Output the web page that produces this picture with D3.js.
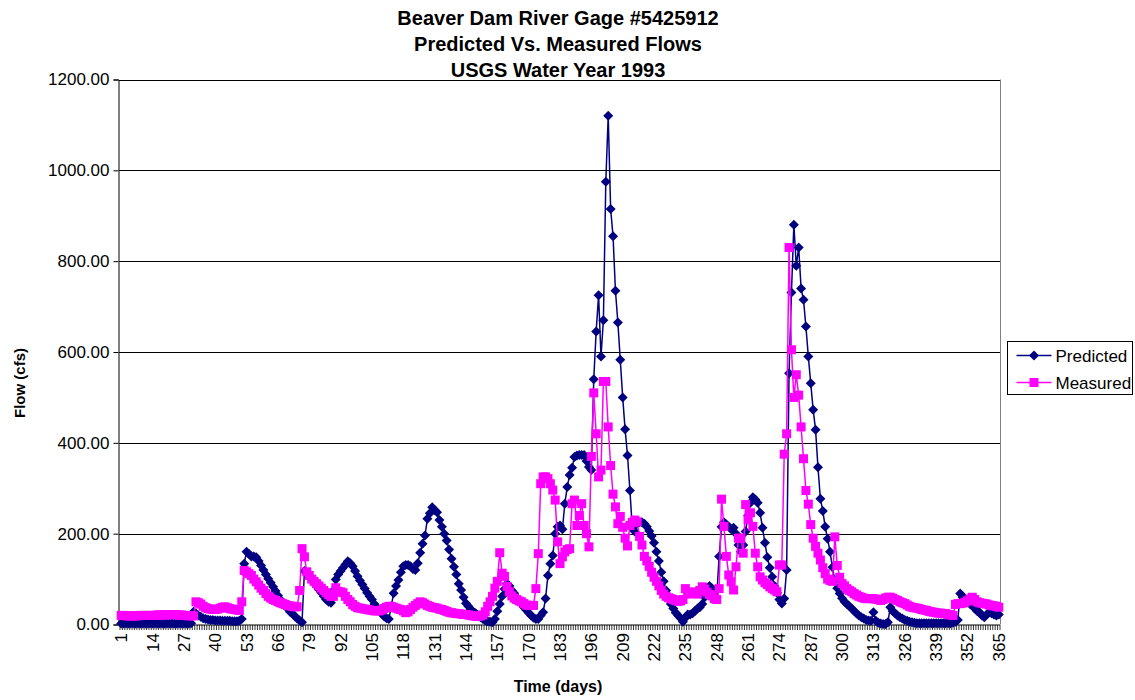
<!DOCTYPE html>
<html>
<head>
<meta charset="utf-8">
<script src="https://cdn.jsdelivr.net/npm/d3@7"></script>
<style>
  body { margin: 0; background: #fff; }
  svg { display: block; font-family: "Liberation Sans", Arial, sans-serif; }
</style>
</head>
<body>
<svg id="chart" width="1135" height="700"></svg>
<script>
// Day numbers (categories) and the labelled ones on the x axis
const days = d3.range(1, 366);
const dayLabels = [1, 14, 27, 40, 53, 66, 79, 92, 105, 118, 131, 144, 157, 170, 183,
    196, 209, 222, 235, 248, 261, 274, 287, 300, 313, 326, 339, 352, 365];
const flowTicks = [0, 200, 400, 600, 800, 1000, 1200];

// Predicted flow (cfs), day 1..365
const predicted = [
    2, 2, 2, 2, 2, 2, 2, 2, 2, 2,
    2, 2, 2, 2, 2, 2, 2, 2, 2, 2,
    2, 2, 2, 2, 2, 2, 2, 2, 2, 3,
    28, 24, 20, 17, 14, 12, 11, 10, 10, 9,
    9, 9, 8, 8, 8, 8, 7, 7, 7, 8,
    12, 134, 160, 155, 150, 150, 148, 140, 130, 120,
    110, 101, 92, 83, 74, 64, 55, 48, 42, 35,
    28, 24, 18, 13, 9, 5, 118, 112, 106, 99,
    92, 84, 77, 70, 62, 55, 50, 48, 75, 99,
    110, 118, 125, 132, 139, 135, 128, 118, 106, 97,
    88, 79, 70, 62, 55, 45, 38, 30, 24, 18,
    14, 12, 40, 69, 85, 98, 115, 128, 131, 131,
    128, 122, 120, 135, 158, 178, 196, 233, 245, 258,
    252, 247, 230, 215, 200, 185, 165, 145, 127, 110,
    90, 76, 60, 47, 40, 33, 28, 25, 20, 16,
    12, 9, 7, 6, 5, 12, 29, 45, 62, 78,
    90, 85, 75, 69, 60, 52, 45, 38, 32, 26,
    20, 15, 12, 12, 20, 27, 57, 108, 134, 152,
    200, 215, 218, 210, 266, 303, 329, 345, 369, 372,
    373, 373, 373, 360, 347, 340, 540, 645, 725, 590,
    670, 975, 1120, 915, 855, 735, 665, 583, 500, 430,
    372, 295, 212, 205, 222, 225, 225, 222, 215, 206,
    195, 180, 160, 140, 115, 95, 75, 60, 45, 35,
    26, 20, 14, 6, 15, 22, 22, 25, 30, 35,
    38, 45, 60, 80, 85, 80, 75, 60, 150, 215,
    225, 220, 215, 210, 213, 200, 175, 160, 175, 205,
    240, 268, 280, 275, 268, 246, 213, 180, 148, 125,
    105, 85, 70, 55, 46, 57, 120, 553, 731, 880,
    790, 830, 740, 715, 656, 590, 531, 473, 429, 346,
    277, 250, 215, 189, 160, 126, 97, 80, 68, 58,
    50, 45, 40, 35, 30, 24, 20, 16, 13, 10,
    9, 8, 27, 8, 4, 2, 1, 1, 5, 38,
    30, 24, 20, 16, 13, 10, 8, 6, 5, 4,
    3, 3, 3, 3, 3, 3, 3, 3, 3, 3,
    3, 3, 3, 3, 3, 4, 6, 10, 68, 60,
    57, 50, 45, 42, 35, 30, 27, 20, 16, 22,
    27, 25, 22, 20, 22
];

// Measured flow (cfs), day 1..365
const measured = [
    20, 20, 19, 19, 19, 19, 19, 19, 20, 20,
    20, 20, 20, 20, 20, 21, 21, 21, 21, 21,
    22, 22, 22, 21, 21, 21, 20, 20, 19, 19,
    19, 50, 48, 45, 40, 37, 35, 34, 33, 33,
    34, 36, 38, 39, 37, 35, 34, 33, 32, 31,
    50, 119, 116, 112, 108, 100, 94, 87, 80, 75,
    68, 62, 58, 55, 53, 50, 48, 46, 44, 42,
    41, 40, 39, 39, 75, 167, 149, 116, 108, 100,
    95, 90, 85, 80, 75, 70, 66, 62, 62, 81,
    73, 72, 70, 62, 55, 50, 44, 40, 37, 36,
    35, 34, 33, 32, 31, 30, 30, 30, 32, 35,
    38, 40, 40, 38, 36, 34, 33, 30, 26, 28,
    33, 38, 42, 46, 50, 48, 45, 42, 40, 38,
    37, 36, 34, 33, 31, 29, 27, 26, 25, 24,
    24, 23, 22, 22, 21, 20, 19, 18, 18, 19,
    21, 28, 40, 50, 62, 80, 95, 158, 113, 106,
    84, 72, 63, 58, 55, 52, 50, 46, 43, 42,
    42, 42, 79, 156, 310, 325, 325, 321, 310, 296,
    274, 182, 134, 149, 160, 165, 167, 266, 274, 218,
    240, 266, 218, 200, 171, 370, 510, 420, 325, 340,
    535, 535, 435, 350, 287, 259, 222, 238, 214, 190,
    173, 218, 225, 230, 226, 194, 175, 150, 140, 128,
    115, 104, 95, 85, 75, 67, 62, 59, 57, 55,
    53, 51, 52, 55, 79, 67, 70, 72, 68, 67,
    75, 83, 78, 71, 66, 63, 57, 55, 79, 276,
    216, 150, 109, 94, 76, 127, 190, 190, 157, 264,
    231, 246, 216, 157, 127, 105, 98, 92, 88, 83,
    79, 76, 72, 131, 131, 375, 420, 830, 605, 500,
    550, 505, 435, 365, 295, 265, 220, 190, 172, 157,
    142, 125, 112, 100, 97, 95, 193, 130, 104, 90,
    85, 79, 75, 72, 68, 65, 62, 60, 58, 57,
    57, 57, 57, 56, 55, 53, 55, 58, 60, 60,
    58, 55, 53, 50, 48, 46, 43, 40, 38, 37,
    36, 35, 33, 32, 31, 29, 28, 27, 26, 25,
    25, 24, 24, 22, 21, 20, 44, 46, 46, 47,
    49, 52, 56, 60, 55, 50, 48, 47, 46, 45,
    43, 42, 41, 40, 38
];

const titleLines = ['Beaver Dam River Gage #5425912', 'Predicted Vs. Measured Flows', 'USGS Water Year 1993'];

const svg = d3.select('#chart');
const plot = {left: 119, right: 1000, top: 79.5, bottom: 624.5};

const x = d3.scaleBand()
    .domain(days)
    .range([plot.left + 1, plot.right])
    .padding(0);

const y = d3.scaleLinear()
    .domain([0, 1200])
    .range([plot.bottom, plot.top]);

const cx = d => x(d) + x.bandwidth() / 2;

// Title
svg.append('g')
    .selectAll('text')
    .data(titleLines)
    .enter().append('text')
    .attr('x', 558)
    .attr('y', (d, i) => 25 + i * 26)
    .attr('text-anchor', 'middle')
    .style('font-size', '20px')
    .style('font-weight', 'bold')
    .text(d => d);

// Gridlines
svg.append('g')
    .selectAll('line')
    .data(flowTicks.filter(t => t > 0))
    .enter().append('line')
    .attr('x1', plot.left)
    .attr('x2', plot.right)
    .attr('y1', d => Math.round(y(d)) + 0.5)
    .attr('y2', d => Math.round(y(d)) + 0.5)
    .attr('stroke', '#000')
    .attr('stroke-width', 1);

// Plot area border (right side)
svg.append('line')
    .attr('x1', plot.right + 0.5).attr('x2', plot.right + 0.5)
    .attr('y1', plot.top).attr('y2', plot.bottom)
    .attr('stroke', '#808080');

// Y axis
const yAxis = svg.append('g')
    .attr('transform', `translate(${plot.left - 0.5},0)`)
    .call(d3.axisLeft(y).tickValues(flowTicks).tickFormat(d3.format('.2f')).tickSizeOuter(0).tickSize(5).tickPadding(4));
yAxis.selectAll('text').style('font-size', '17px').style('font-family', '"Liberation Sans", Arial, sans-serif').attr('fill', '#000');
yAxis.select('.domain').attr('stroke', '#000');

// X axis: a tick at every category, labels every 13 days
const xAxis = svg.append('g')
    .attr('transform', `translate(0,${plot.bottom + 0.5})`);
xAxis.append('line')
    .attr('x1', plot.left).attr('x2', plot.right)
    .attr('stroke', '#000');
xAxis.selectAll('.minor')
    .data(days.concat([366]))
    .enter().append('line')
    .attr('class', 'minor')
    .attr('x1', d => d === 366 ? plot.right : x(d))
    .attr('x2', d => d === 366 ? plot.right : x(d))
    .attr('y1', 0).attr('y2', 5)
    .attr('stroke', '#000')
    .attr('stroke-width', 0.8);
xAxis.selectAll('.lbl')
    .data(dayLabels)
    .enter().append('text')
    .attr('class', 'lbl')
    .attr('transform', d => `translate(${cx(d) + 6},8) rotate(-90)`)
    .attr('text-anchor', 'end')
    .style('font-size', '17px')
    .text(d => d);

// Axis titles
svg.append('text')
    .attr('x', 558).attr('y', 692)
    .attr('text-anchor', 'middle')
    .style('font-size', '16px').style('font-weight', 'bold')
    .text('Time (days)');
svg.append('text')
    .attr('transform', 'translate(25,383) rotate(-90)')
    .attr('text-anchor', 'middle')
    .style('font-size', '15px').style('font-weight', 'bold')
    .text('Flow (cfs)');

// Series
const series = [
    {name: 'Predicted', values: predicted, color: '#000080', shape: 'diamond'},
    {name: 'Measured', values: measured, color: '#FF00FF', shape: 'square'}
];

const diamond = 'M0,-5L5,0L0,5L-5,0Z';
const square = 'M-4.5,-4.5H4.5V4.5H-4.5Z';

const line = d3.line()
    .x((v, i) => cx(days[i]))
    .y(v => y(v));

series.forEach(s => {
    const g = svg.append('g');
    g.append('path')
        .datum(s.values)
        .attr('fill', 'none')
        .attr('stroke', s.color)
        .attr('stroke-width', 1.5)
        .attr('d', line);
    g.selectAll('path.mk')
        .data(s.values)
        .enter().append('path')
        .attr('class', 'mk')
        .attr('transform', (v, i) => `translate(${cx(days[i])},${y(v)})`)
        .attr('d', s.shape === 'diamond' ? diamond : square)
        .attr('fill', s.color);
});

// Legend
const legend = svg.append('g').attr('transform', 'translate(1007.5,341.5)');
legend.append('rect')
    .attr('width', 125).attr('height', 53)
    .attr('fill', '#fff').attr('stroke', '#000');
series.forEach((s, i) => {
    const ly = 14 + i * 27;
    legend.append('line')
        .attr('x1', 9).attr('x2', 44)
        .attr('y1', ly).attr('y2', ly)
        .attr('stroke', s.color).attr('stroke-width', 1.5);
    legend.append('path')
        .attr('transform', `translate(26.5,${ly})`)
        .attr('d', s.shape === 'diamond' ? diamond : square)
        .attr('fill', s.color);
    legend.append('text')
        .attr('x', 48).attr('y', ly + 6)
        .style('font-size', '17px')
        .text(s.name);
});
</script>
</body>
</html>
